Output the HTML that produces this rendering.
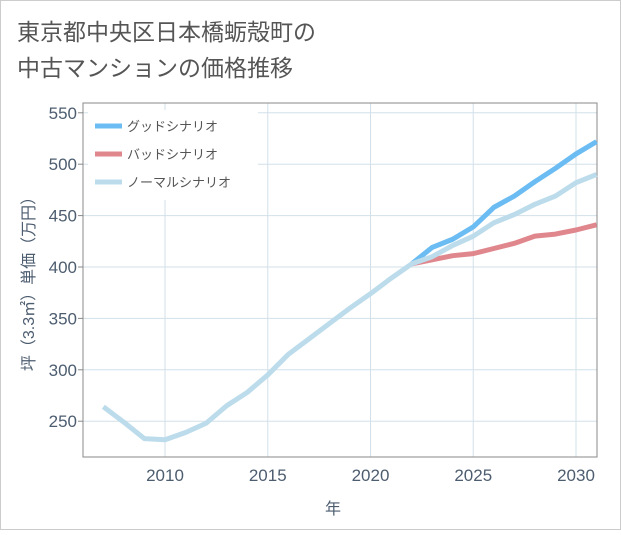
<!DOCTYPE html>
<html><head><meta charset="utf-8">
<style>
html,body{margin:0;padding:0;background:#fff;}
svg text{font-family:"Liberation Sans","Noto Sans CJK JP",sans-serif;}
</style></head>
<body>
<svg width="621" height="530" xmlns="http://www.w3.org/2000/svg">
<rect x="0.5" y="0.5" width="620" height="529" fill="#fff" stroke="#ccc"/>
<text x="17" y="40" font-size="23" fill="#555">東京都中央区日本橋蛎殻町の</text>
<text x="17" y="76" font-size="23" fill="#555">中古マンションの価格推移</text>
<g id="grid"></g>
<rect x="83" y="103" width="514" height="354" fill="none" stroke="#888"/>
<rect x="88" y="110" width="170" height="90" fill="#fff"/>
<g id="series"></g>
<g id="axes"></g>
<g>
<line x1="95" y1="126" x2="122" y2="126" stroke="#6bbcf2" stroke-width="5"/>
<text x="127" y="131" font-size="13" fill="#555">グッドシナリオ</text>
<line x1="95" y1="154" x2="122" y2="154" stroke="#e0878e" stroke-width="5"/>
<text x="127" y="159" font-size="13" fill="#555">バッドシナリオ</text>
<line x1="95" y1="182" x2="122" y2="182" stroke="#bcdcec" stroke-width="5"/>
<text x="127" y="187" font-size="13" fill="#555">ノーマルシナリオ</text>
</g>
<text x="333" y="514" font-size="16" fill="#4d5d70" text-anchor="middle">年</text>
<text transform="translate(34,280) rotate(-90)" font-size="16" fill="#4d5d70" text-anchor="middle">坪（3.3㎡）単価（万円）</text>
</svg>
<script>
const normalYears=[2007,2008,2009,2010,2011,2012,2013,2014,2015,2016,2017,2018,2019,2020,2021,2022,2023,2024,2025,2026,2027,2028,2029,2030,2031];
const normalValues=[264,249,233,232,239,248,265,278,295,315,330,345,360,374,389,403,410,421,430,443,451,461,469,482,490];
const goodYears=[2022,2023,2024,2025,2026,2027,2028,2029,2030,2031];
const goodValues=[403,419,427,439,458,469,483,496,510,522];
const badYears=[2022,2023,2024,2025,2026,2027,2028,2029,2030,2031];
const badValues=[403,407,411,413,418,423,430,432,436,441];
const xTicks=[2010,2015,2020,2025,2030];
const yTicks=[250,300,350,400,450,500,550];
const NS="http://www.w3.org/2000/svg";
const x=v=>165+(v-2010)*20.55;
const y=v=>267-(v-400)*1.028;
const grid=document.getElementById('grid'),axes=document.getElementById('axes'),series=document.getElementById('series');
function mk(t,a,p){const e=document.createElementNS(NS,t);for(const k in a)e.setAttribute(k,a[k]);p.appendChild(e);return e;}
xTicks.forEach(t=>{
const l=mk('line',{x1:x(t),x2:x(t),y1:103,y2:457,stroke:'#d3e0ea','stroke-width':1},grid);


const tx=mk('text',{x:x(t),y:481,'font-size':17,fill:'#4d5d70','text-anchor':'middle'},axes);
tx.textContent=t;


});
yTicks.forEach(t=>{
const l=mk('line',{x1:83,x2:597,y1:y(t),y2:y(t),stroke:'#d3e0ea','stroke-width':1},grid);


const tk=mk('line',{x1:78,x2:83,y1:y(t),y2:y(t),stroke:'#888'},axes);


const tx=mk('text',{x:77,y:y(t)+6,'font-size':17,fill:'#4d5d70','text-anchor':'end'},axes);
tx.textContent=t;


});
function line(xs,vs,c,name){
const p=mk('polyline',{points:xs.map((d,i)=>x(d)+','+y(vs[i])).join(' '),fill:'none',stroke:c,'stroke-width':5,'stroke-linejoin':'round'},series);


}
line(goodYears,goodValues,'#6bbcf2','good-scenario-line');
line(badYears,badValues,'#e0878e','bad-scenario-line');
line(normalYears,normalValues,'#bcdcec','normal-scenario-line');
</script>
</body></html>
